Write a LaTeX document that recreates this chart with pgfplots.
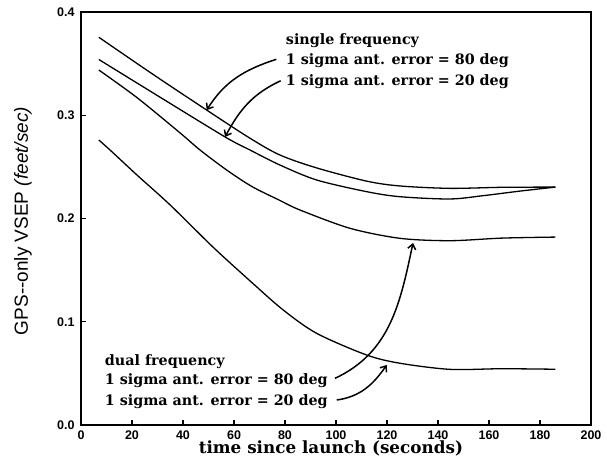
\documentclass[border=0pt]{standalone}
\usepackage{fontspec}
\setmainfont{DejaVu Serif}
\newfontfamily\labsans{Liberation Sans}
\usepackage{pgfplots}
\pgfplotsset{compat=1.18}
\usetikzlibrary{arrows.meta,calc}

% single frequency, 80 deg
\pgfplotstableread{
x y
7 0.3755
28 0.340
49.3 0.305
66.3 0.2777
78 0.2615
92.4 0.249
112 0.2362
125.1 0.2315
144.7 0.2292
165 0.2302
186 0.2304
}\singleA
% single frequency, 20 deg
\pgfplotstableread{
x y
7 0.354
30 0.319
56.5 0.279
66.3 0.2663
78 0.2518
92.4 0.2373
112 0.226
125.1 0.2211
144.7 0.2189
158 0.2222
172 0.2265
186 0.2304
}\singleB
% dual frequency, 80 deg
\pgfplotstableread{
x y
7 0.3438
22 0.317
38.8 0.283
46.7 0.2663
57.1 0.247
67 0.231
78 0.2175
85.9 0.2082
105.5 0.1905
125.1 0.1808
144.7 0.1785
165 0.181
186 0.182
}\dualA
% dual frequency, 20 deg
\pgfplotstableread{
x y
7 0.276
11.4 0.2663
22 0.242
35 0.213
51.9 0.172
67 0.138
79.3 0.1114
92.4 0.0888
112 0.0678
125.1 0.0598
144.7 0.0539
165 0.0545
186 0.054
}\dualB

\begin{document}
\begin{tikzpicture}
\begin{axis}[
  scale only axis,
  width=510pt, height=413pt,
  xmin=0, xmax=200, ymin=0, ymax=0.4,
  xtick={0,20,...,200},
  ytick={0,0.1,0.2,0.3,0.4},
  xtick pos=bottom, ytick pos=left,
  tick align=inside,
  major tick length=5pt,
  axis line style={line width=1.6pt},
  every tick/.style={line width=1.2pt, black},
  /pgf/number format/assume math mode=true,
  ticklabel style={font=\labsans\bfseries\fontsize{12.5}{13}\selectfont},
  xticklabel style={yshift=-2pt},
  yticklabel style={xshift=-3pt, /pgf/number format/.cd, fixed, fixed zerofill, precision=1},
  xlabel={time since launch (seconds)},
  xlabel style={font=\bfseries\fontsize{16.8}{18}\selectfont,
    at={(axis description cs:0.49,0)}, anchor=center, yshift=-23pt},
  ylabel={GPS--only VSEP \textit{(feet/sec)}},
  ylabel style={font=\labsans\fontsize{19}{21}\selectfont,
    at={(axis description cs:-0.1137,0.494)}, anchor=center},
]
\addplot[black, line width=1.3pt, smooth, no markers] table {\singleA};
\addplot[black, line width=1.3pt, smooth, no markers] table {\singleB};
\addplot[black, line width=1.3pt, smooth, no markers] table {\dualA};
\addplot[black, line width=1.3pt, smooth, no markers] table {\dualB};

\begin{scope}[font=\bfseries\fontsize{14.3}{16}\selectfont]
\node[anchor=west] at (axis cs:79,0.372) {single frequency};
\node[anchor=west] at (axis cs:79,0.353) {1 sigma ant. error = 80 deg};
\node[anchor=west] at (axis cs:79,0.3325) {1 sigma ant. error = 20 deg};
\node[anchor=west] at (axis cs:8,0.0615) {dual frequency};
\node[anchor=west] at (axis cs:8,0.0425) {1 sigma ant. error = 80 deg};
\node[anchor=west] at (axis cs:8,0.0228) {1 sigma ant. error = 20 deg};
\end{scope}

\begin{scope}[line width=1.5pt, -{Straight Barb[length=5pt,width=8pt]}]
\draw (axis cs:76.6,0.3542) to[out=198,in=58] (axis cs:49.3,0.305);
\draw (axis cs:78.3,0.3334) to[out=205,in=62] (axis cs:56.5,0.279);
\draw (axis cs:99.6,0.0452) to[out=25,in=-102] (axis cs:130.2,0.1763);
\draw (axis cs:100.3,0.0242) to[out=8,in=-125] (axis cs:119.9,0.0581);
\end{scope}
\end{axis}
\pgfresetboundingbox
\path ($(current axis.south west)+(-81pt,-45pt)$) rectangle ($(current axis.north east)+(16pt,12pt)$);
\end{tikzpicture}
\end{document}
